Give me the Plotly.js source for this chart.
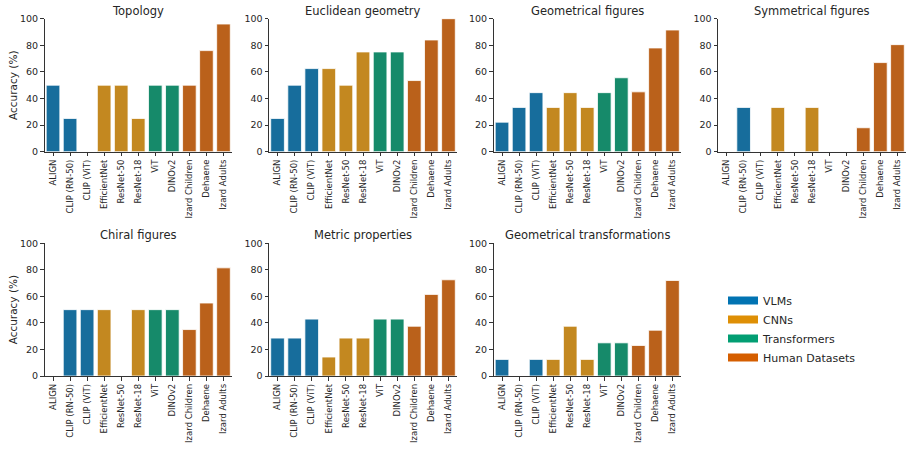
<!DOCTYPE html>
<html>
<head>
<meta charset="utf-8">
<script src="https://cdn.plot.ly/plotly-3.0.1.min.js"></script>
<style>html,body{margin:0;padding:0;background:#fff;}#chart{width:912px;height:449px;}</style>
</head>
<body>
<div id="chart"></div>
<script>
// ---- Data ----
const categories = ['ALIGN', 'CLIP (RN-50)', 'CLIP (ViT)', 'EfficientNet', 'ResNet-50', 'ResNet-18', 'ViT', 'DINOv2', 'Izard Children', 'Dehaene', 'Izard Adults'];
const groups = ['VLMs', 'VLMs', 'VLMs', 'CNNs', 'CNNs', 'CNNs', 'Transformers', 'Transformers', 'Human Datasets', 'Human Datasets', 'Human Datasets'];
const legendGroups = ['VLMs', 'CNNs', 'Transformers', 'Human Datasets'];
const panelTitles = ['Topology', 'Euclidean geometry', 'Geometrical figures', 'Symmetrical figures', 'Chiral figures', 'Metric properties', 'Geometrical transformations'];
const yTicks = [0, 20, 40, 60, 80, 100];

const topology       = [50, 25, 0, 50, 50, 25, 50, 50, 50, 76, 96];
const euclidean      = [25, 50, 62.5, 62.5, 50, 75, 75, 75, 53.5, 84, 100];
const geomFigures    = [22.2, 33.3, 44.4, 33.3, 44.4, 33.3, 44.4, 55.6, 45, 78, 91.5];
const symmetrical    = [0, 33.3, 0, 33.3, 0, 33.3, 0, 0, 18, 67, 80.5];
const chiral         = [0, 50, 50, 50, 0, 50, 50, 50, 35, 55, 81.5];
const metric         = [28.6, 28.6, 42.9, 14.3, 28.6, 28.6, 42.9, 42.9, 37.5, 61.5, 72.5];
const geomTransforms = [12.5, 0, 12.5, 12.5, 37.5, 12.5, 25, 25, 23, 34.5, 72];

const panelValues = [topology, euclidean, geomFigures, symmetrical, chiral, metric, geomTransforms];

// ---- Styles ----
const barColors = {'VLMs': '#176d9c', 'CNNs': '#c38820', 'Transformers': '#168a6a', 'Human Datasets': '#ba611b'};
const legendColors = {'VLMs': '#0173b2', 'CNNs': '#de8f05', 'Transformers': '#029e73', 'Human Datasets': '#d55e00'};

const W = 912, H = 449;
const colPx = [[44.5, 232], [269, 457], [493.5, 681], [718, 906]];
const rowPx = [[18.7, 151.7], [243.3, 376]];
const textColor = '#262626';
const lineColor = '#333333';
const FONT = '"DejaVu Sans", "Liberation Sans", sans-serif';

const traces = [];
const layout = {
  width: W, height: H,
  margin: {l: 0, r: 0, t: 0, b: 0},
  paper_bgcolor: '#fff', plot_bgcolor: '#fff',
  font: {family: FONT, color: textColor, size: 9},
  showlegend: true,
  annotations: [],
  legend: {
    x: 723 / W, y: 1 - 286 / H, xanchor: 'left', yanchor: 'top',
    font: {family: FONT, size: 11, color: textColor},
    bgcolor: 'rgba(0,0,0,0)', borderwidth: 0,
    itemwidth: 30, tracegroupgap: 0
  }
};

panelValues.forEach((vals, i) => {
  const r = Math.floor(i / 4), c = i % 4;
  const idx = i + 1;
  const sfx = idx === 1 ? '' : String(idx);
  const xr = 'x' + sfx, yr = 'y' + sfx;
  traces.push({
    type: 'bar', x: categories, y: vals, xaxis: xr, yaxis: yr,
    marker: {color: groups.map(g => barColors[g]), line: {color: '#ffffff', width: 0.8}},
    width: 0.8, showlegend: false, hoverinfo: 'x+y'
  });
  layout['xaxis' + sfx] = {
    domain: [colPx[c][0] / W, colPx[c][1] / W],
    anchor: yr, type: 'category', categoryorder: 'array', categoryarray: categories,
    range: [-0.5, 10.5], showgrid: false, zeroline: false,
    showline: true, linecolor: lineColor, linewidth: 1,
    ticks: 'outside', ticklen: 3.5, tickwidth: 1, tickcolor: lineColor,
    tickangle: -90, tickfont: {family: FONT, size: 8.5, color: textColor},
    fixedrange: true
  };
  layout['yaxis' + sfx] = {
    domain: [1 - rowPx[r][1] / H, 1 - rowPx[r][0] / H],
    anchor: xr, range: [0, 100], tickvals: yTicks,
    showgrid: false, zeroline: false,
    showline: true, linecolor: lineColor, linewidth: 1,
    ticks: 'outside', ticklen: 3.5, tickwidth: 1, tickcolor: lineColor,
    tickfont: {family: FONT, size: 9.5, color: textColor},
    fixedrange: true
  };
  if (c === 0) {
    layout['yaxis' + sfx].title = {text: 'Accuracy (%)', font: {family: FONT, size: 10.5, color: textColor}, standoff: 0};
  }
  layout.annotations.push({
    text: panelTitles[i], xref: 'paper', yref: 'paper',
    x: (colPx[c][0] + colPx[c][1]) / 2 / W, y: 1 - rowPx[r][0] / H,
    xanchor: 'center', yanchor: 'bottom', yshift: -1, showarrow: false,
    font: {family: FONT, size: 11.5, color: textColor}
  });
});

legendGroups.forEach(g => {
  traces.push({
    type: 'scatter', mode: 'lines', x: [null], y: [null], xaxis: 'x', yaxis: 'y',
    name: g, line: {color: legendColors[g], width: 8}, showlegend: true, hoverinfo: 'skip'
  });
});

Plotly.newPlot('chart', traces, layout, {displayModeBar: false, staticPlot: true});
</script>
</body>
</html>
